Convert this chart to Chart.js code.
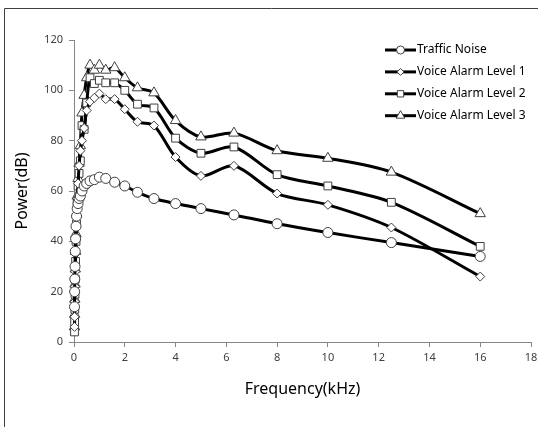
<!DOCTYPE html>
<html>
<head>
<meta charset="utf-8">
<script src="https://cdn.jsdelivr.net/npm/chart.js@4/dist/chart.umd.min.js"></script>
<style>
  body { margin: 0; background: #fff; }
  #wrap { width: 538px; height: 427px; }
</style>
</head>
<body>
<div id="wrap"><canvas id="lineChart" width="538" height="427"></canvas></div>
<script>
// 1/3 octave band centre frequencies (kHz)
const freqs = [0.02, 0.025, 0.0315, 0.04, 0.05, 0.063, 0.08, 0.1, 0.125, 0.16,
  0.2, 0.25, 0.315, 0.4, 0.5, 0.63, 0.8, 1, 1.25, 1.6,
  2, 2.5, 3.15, 4, 5, 6.3, 8, 10, 12.5, 16];

const trafficNoise = [14, 20, 25, 30, 36, 41, 46, 50, 53, 55,
  57, 58, 60, 62, 63, 64, 64.5, 65.5, 65, 63.5,
  62, 59.5, 57, 55, 53, 50.5, 47, 43.5, 39.5, 34];
const alarmLevel1 = [6, 10, 16, 22, 28, 35, 42, 50, 57, 63,
  70, 76, 80, 85, 92, 95.5, 97, 98.7, 96.5, 96.5,
  92.5, 87.5, 86, 73.5, 66, 70, 59, 54.5, 45.5, 26];
const alarmLevel2 = [4, 8, 13, 19, 25, 32, 40, 47, 55, 62,
  67, 72, 86, 84.5, 95, 105, 102.7, 104, 103, 103,
  100, 94.5, 93, 81, 75, 77.5, 66.5, 62, 55.5, 38];
const alarmLevel3 = [6, 11, 17, 23, 29, 36, 43, 51, 58, 65,
  71, 78, 91, 98, 105, 110, 108, 110, 108, 109,
  105, 101, 99, 88, 81.5, 83, 76, 73, 67.5, 51];

const xTicks = [0, 2, 4, 6, 8, 10, 12, 14, 16, 18];
const yTicks = [0, 20, 40, 60, 80, 100, 120];

function toPoints(values) {
  return values.map((v, i) => ({ x: freqs[i], y: v }));
}

function series(label, values, style, radius) {
  return {
    label: label,
    data: toPoints(values),
    borderColor: "#000",
    borderWidth: 3,
    tension: 0.3,
    clip: 8,
    pointStyle: style,
    pointRadius: radius,
    pointBorderWidth: 1,
    pointBorderColor: "#404040",
    pointBackgroundColor: "#fff",
  };
}

// legend with line + marker, drawn inside plot at top right
const lineLegend = {
  id: "lineLegend",
  afterDraw(chart) {
    const ctx = chart.ctx;
    const x0 = 385, x1 = 416, yStart = 50, step = 21.9;
    chart.data.datasets.forEach((ds, i) => {
      const y = yStart + i * step;
      ctx.save();
      ctx.strokeStyle = "#000";
      ctx.lineWidth = 3;
      ctx.beginPath();
      ctx.moveTo(x0, y);
      ctx.lineTo(x1, y);
      ctx.stroke();
      ctx.strokeStyle = ds.pointBorderColor;
      ctx.fillStyle = "#fff";
      ctx.lineWidth = 1;
      Chart.helpers.drawPoint(ctx, { pointStyle: ds.pointStyle, radius: ds.pointRadius - 1, rotation: 0, borderWidth: 1 }, (x0 + x1) / 2, y);
      ctx.fillStyle = "#000";
      ctx.font = "12px 'Noto Sans'";
      ctx.textBaseline = "middle";
      ctx.fillText(ds.label, x1 + 1, y);
      ctx.restore();
    });
  },
};

// outer frame
const frame = {
  id: "frame",
  beforeDraw(chart) {
    const ctx = chart.ctx;
    ctx.save();
    ctx.fillStyle = "#fff";
    ctx.fillRect(0, 0, chart.width, chart.height);
    ctx.strokeStyle = "#404040";
    ctx.lineWidth = 1;
    ctx.beginPath();
    ctx.moveTo(4.5, 427);
    ctx.lineTo(4.5, 8.5);
    ctx.lineTo(538, 8.5);
    ctx.stroke();
    ctx.restore();
  },
};

var ctx = document.getElementById("lineChart").getContext("2d");
var myChart = new Chart(ctx, {
  type: "line",
  data: {
    datasets: [
      series("Traffic Noise", trafficNoise, "circle", 5),
      series("Voice Alarm Level 1", alarmLevel1, "rectRot", 4.5),
      series("Voice Alarm Level 2", alarmLevel2, "rect", 5.5),
      series("Voice Alarm Level 3", alarmLevel3, "triangle", 6),
    ],
  },
  options: {
    responsive: false,
    animation: false,
    layout: { padding: { left: 0, top: 40, right: 5, bottom: 15 } },
    plugins: { legend: { display: false }, tooltip: { enabled: false } },
    scales: {
      x: {
        type: "linear",
        min: xTicks[0],
        max: xTicks[xTicks.length - 1],
        afterBuildTicks: (axis) => { axis.ticks = xTicks.map((v) => ({ value: v })); },
        afterFit: (axis) => { axis.height = 70; axis.paddingRight = 0; axis.paddingLeft = 0; },
        grid: { display: true, drawOnChartArea: false, tickLength: 5, color: "#868686" },
        border: { color: "#868686" },
        ticks: { color: "#404040", font: { family: "Noto Sans", size: 11 }, padding: 4, maxRotation: 0 },
        title: { display: true, text: "Frequency(kHz)", color: "#000", font: { family: "Noto Sans", size: 16 }, padding: { top: 0, bottom: 13 } },
      },
      y: {
        min: yTicks[0],
        max: yTicks[yTicks.length - 1],
        afterBuildTicks: (axis) => { axis.ticks = yTicks.map((v) => ({ value: v })); },
        afterFit: (axis) => { axis.width = 74; },
        grid: { display: true, drawOnChartArea: false, tickLength: 5, color: "#868686" },
        border: { color: "#868686" },
        ticks: { color: "#404040", font: { family: "Noto Sans", size: 11 }, padding: 6 },
        title: { display: true, text: "Power(dB)", color: "#000", font: { family: "Noto Sans", size: 16 }, padding: { top: 13, bottom: 0 } },
      },
    },
  },
  plugins: [frame, lineLegend],
});
</script>
</body>
</html>
